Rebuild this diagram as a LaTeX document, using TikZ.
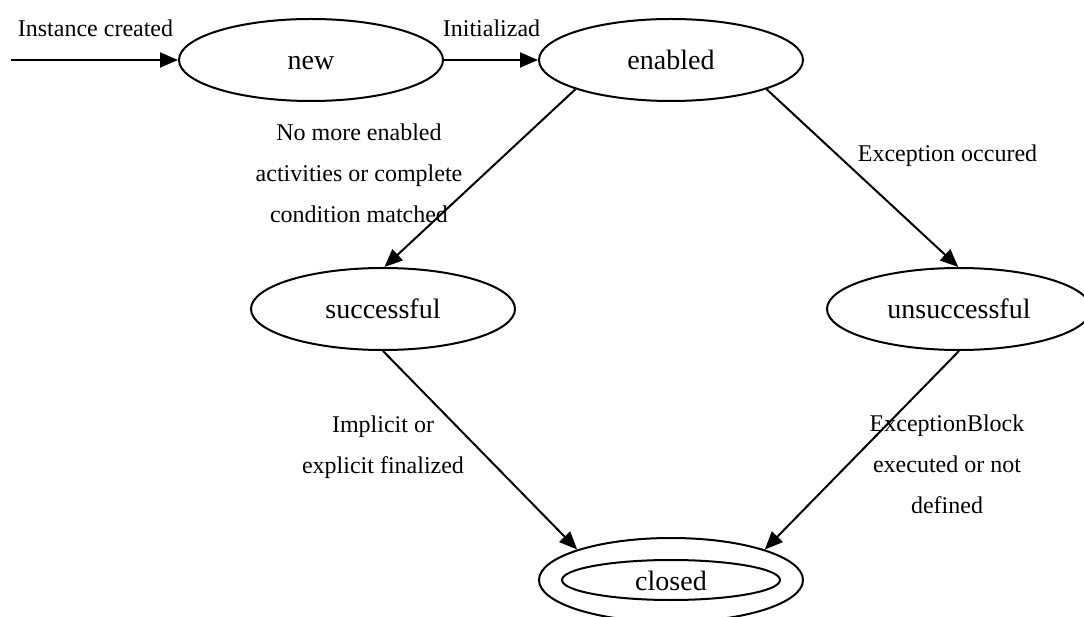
\documentclass[tikz,border=0pt]{standalone}
\usepackage{fontspec}
\setmainfont{Liberation Serif}
\usetikzlibrary{shapes.geometric,arrows.meta}
\begin{document}
\begin{tikzpicture}[x=1pt,y=-1pt,
  state/.style={draw, ellipse, line width=2pt, minimum width=264pt,
    minimum height=82pt, inner sep=0pt, text height=20pt, text depth=0pt,
    font=\fontsize{28}{30}\selectfont},
  trans/.style={line width=2pt, -{Triangle[length=18pt,width=15pt]}},
  lbl/.style={font=\fontsize{24}{41}\selectfont, align=center, anchor=base,
    inner sep=0pt}]
\useasboundingbox (0,0) rectangle (1084,617);
\clip (0,0) rectangle (1084,617);

% states
\node[state] (new) at (311,60) {new};
\node[state] (enabled) at (671,60) {enabled};
\node[state] (successful) at (383,309) {successful};
\node[state] (unsuccessful) at (959,309) {unsuccessful};
\node[state, minimum height=84pt] (closed) at (671,580) {closed};
\node[draw, ellipse, line width=2pt, minimum width=218pt,
  minimum height=40pt, inner sep=0pt] (closedin) at (closed.center) {};

% initial transition
\coordinate (init) at (11,60);

% transitions
\draw[trans] (init) -- (new);
\draw[trans] (new) -- (enabled);
\draw[trans] (enabled.197) -- (successful.88);
\draw[trans] (enabled.343) -- (unsuccessful.91);
\draw[trans] (successful.south) -- (closed.162);
\draw[trans] (unsuccessful.south) -- (closed.18);

% transition labels (base = baseline of the last line)
\node[lbl] (lcreated) at (95.5,37) {Instance created};
\node[lbl] (linit) at (491.5,37) {Initializad};
\node[lbl] (ldone) at (359,223) {No more enabled\\activities or complete\\condition matched};
\node[lbl] (lexc) at (947.5,162) {Exception occured};
\node[lbl] (lfinal) at (383,473) {Implicit or\\explicit finalized};
\node[lbl] (lblock) at (947,513) {ExceptionBlock\\executed or not\\defined};
\end{tikzpicture}
\end{document}
